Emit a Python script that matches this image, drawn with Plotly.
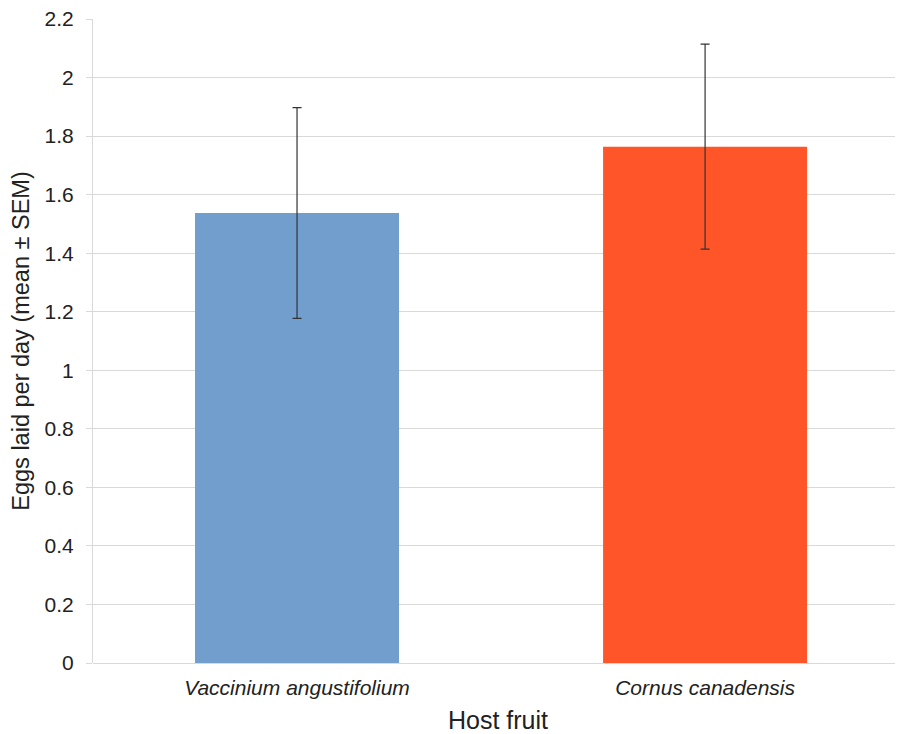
import plotly.graph_objects as go

categories = ["Vaccinium angustifolium", "Cornus canadensis"]
means = [1.537, 1.764]
sems = [0.36, 0.35]
colors = ["#729ece", "#ff5529"]
y_ticks = [0, 0.2, 0.4, 0.6, 0.8, 1, 1.2, 1.4, 1.6, 1.8, 2, 2.2]

fig = go.Figure()
fig.add_trace(go.Bar(
    x=list(range(len(categories))),
    y=means,
    width=0.5,
    marker=dict(color=colors, line=dict(width=0)),
    error_y=dict(type="data", array=sems, visible=True, color="#333333", thickness=1.2, width=4.5),
))

fig.update_layout(
    width=895, height=726,
    margin=dict(l=85, r=0, t=11, b=71, autoexpand=False),
    paper_bgcolor="white", plot_bgcolor="white",
    font=dict(family="Liberation Sans, Arial, sans-serif", color="#222222"),
    showlegend=False,
    xaxis=dict(
        range=[-0.5, 1.485],
        tickmode="array",
        tickvals=list(range(len(categories))),
        ticktext=[f"<i>{c}</i>" for c in categories],
        tickfont=dict(size=21),
        showgrid=False, zeroline=False,
        showline=False, ticks="",
        ticklabelstandoff=10,
        ticklabeloverflow="allow",
        title=dict(text="Host fruit", font=dict(size=25), standoff=14),
    ),
    yaxis=dict(
        range=[0, 2.2],
        tickmode="array",
        tickvals=y_ticks,
        ticktext=[str(t) for t in y_ticks],
        tickfont=dict(size=21),
        showgrid=True, gridcolor="#d9d9d9", gridwidth=1,
        zeroline=True, zerolinecolor="#d9d9d9", zerolinewidth=1,
        showline=True, linecolor="#d9d9d9", linewidth=1,
        ticks="outside", ticklen=6, tickcolor="#d9d9d9",
        ticklabelstandoff=8,
        ticklabeloverflow="allow",
        title=dict(text="Eggs laid per day (mean ± SEM)", font=dict(size=23.5), standoff=14),
    ),
)

fig.write_html("out.html")
